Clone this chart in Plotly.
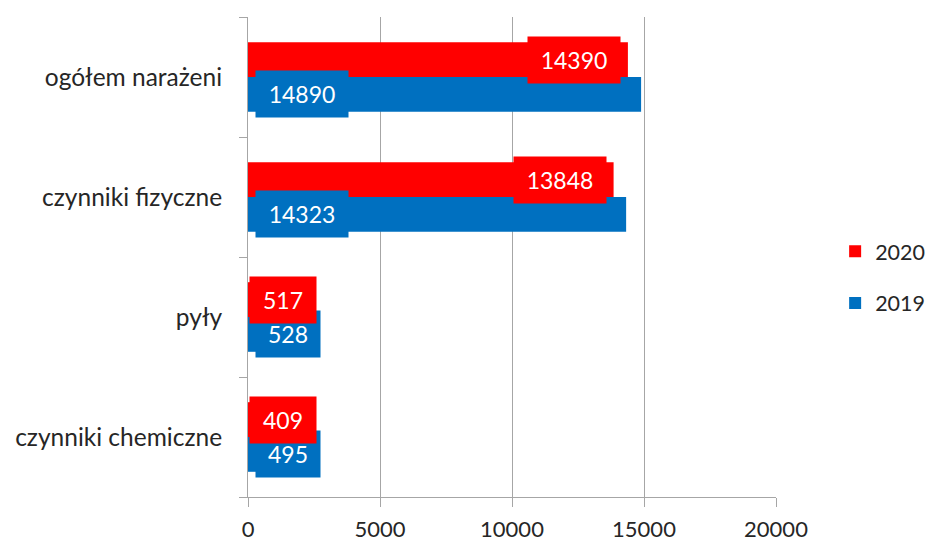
import plotly.graph_objects as go

categories = ["czynniki chemiczne", "pyły", "czynniki fizyczne", "ogółem narażeni"]
values_2019 = [495, 528, 14323, 14890]
values_2020 = [409, 517, 13848, 14390]
series_names = ["2019", "2020"]
x_ticks = [0, 5000, 10000, 15000, 20000]

RED = "#FF0000"
BLUE = "#0070C0"
FONT = "Lato"
GRID = "#A6A6A6"

fig = go.Figure()
fig.add_trace(go.Bar(y=categories, x=values_2019, name=series_names[0], orientation="h",
                     marker=dict(color=BLUE, line=dict(width=0)), legendrank=2, legendgroup="g2019"))
fig.add_trace(go.Bar(y=categories, x=values_2020, name=series_names[1], orientation="h",
                     marker=dict(color=RED, line=dict(width=0)), legendrank=1, legendgroup="g2020"))

annotations = []
off = 0.145
def box_w(t):
    return 20 + 14 * len(t)

for i, (v19, v20) in enumerate(zip(values_2019, values_2020)):
    t = str(v19)
    annotations.append(dict(x=0, y=i - off, xref="x", yref="y", text=t, showarrow=False,
                            xanchor="left", yanchor="middle", xshift=7,
                            font=dict(family=FONT, size=23, color="white"),
                            bgcolor=BLUE, width=box_w(t), height=44))
    t = str(v20)
    if v20 > 3500:
        annotations.append(dict(x=v20, y=i + off, xref="x", yref="y", text=t, showarrow=False,
                                xanchor="right", yanchor="middle", xshift=-7,
                                font=dict(family=FONT, size=23, color="white"),
                                bgcolor=RED, width=box_w(t), height=44))
    else:
        annotations.append(dict(x=0, y=i + off, xref="x", yref="y", text=t, showarrow=False,
                                xanchor="left", yanchor="middle", xshift=1,
                                font=dict(family=FONT, size=23, color="white"),
                                bgcolor=RED, width=box_w(t) + 2, height=44))

fig.update_layout(
    width=930, height=543,
    margin=dict(l=248, r=154, t=17, b=46, autoexpand=False),
    paper_bgcolor="white", plot_bgcolor="white",
    barmode="group", bargap=0.42, bargroupgap=0,
    font=dict(family=FONT, size=24, color="#262626"),
    showlegend=True,
    legend=dict(x=1.112, xanchor="left", y=0.458, yanchor="middle",
                traceorder="grouped", tracegroupgap=21,
                font=dict(family=FONT, size=21.5, color="#262626"),
                bgcolor="rgba(0,0,0,0)"),
    annotations=annotations,
)
fig.update_xaxes(range=[0, 20000], tickvals=x_ticks, ticktext=[str(v) for v in x_ticks],
                 tickfont=dict(size=22),
                 showgrid=True, gridcolor=GRID, gridwidth=1, zeroline=False,
                 showline=True, linecolor=GRID, linewidth=1,
                 ticks="outside", ticklen=9, tickcolor=GRID, ticklabelstandoff=4)
fig.update_yaxes(type="category", categoryorder="array", categoryarray=categories,
                 tickfont=dict(size=24.5),
                 showgrid=False, zeroline=False, showline=True, linecolor=GRID, linewidth=1,
                 ticks="outside", tickson="boundaries", ticklen=8, tickcolor=GRID,
                 ticklabelstandoff=20)

fig.write_html("out.html")
